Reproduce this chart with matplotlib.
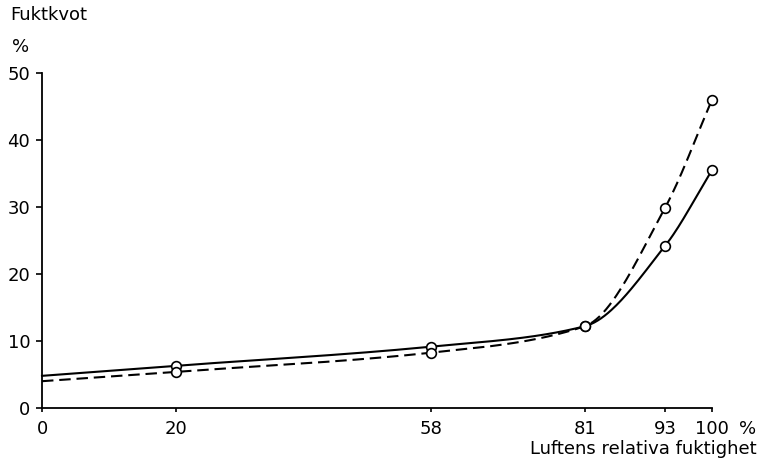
import numpy as np
import matplotlib.pyplot as plt

plt.rcParams['font.family'] = 'DejaVu Sans'
plt.rcParams['font.size'] = 13

# relative humidity (%) and moisture content (%) for the two series
rh = [0, 20, 58, 81, 93, 100]
fukt_solid = [4.8, 6.3, 9.15, 12.2, 24.2, 35.5]
fukt_dashed = [4.0, 5.4, 8.25, 12.2, 29.9, 46.0]
xticks = [0, 20, 58, 81, 93, 100]
yticks = [0, 10, 20, 30, 40, 50]


def pchip(x, y, xs):
    # monotone cubic hermite curve through the points
    x = np.asarray(x, float)
    y = np.asarray(y, float)
    h = np.diff(x)
    d = np.diff(y) / h
    m = np.zeros_like(y)
    for k in range(1, len(x) - 1):
        if d[k - 1] * d[k] > 0:
            w1 = 2 * h[k] + h[k - 1]
            w2 = h[k] + 2 * h[k - 1]
            m[k] = (w1 + w2) / (w1 / d[k - 1] + w2 / d[k])
    m[0] = d[0]
    m[-1] = d[-1]
    out = np.empty_like(xs)
    for i, xv in enumerate(xs):
        k = min(np.searchsorted(x, xv, side='right') - 1, len(x) - 2)
        t = (xv - x[k]) / h[k]
        h00 = 2 * t**3 - 3 * t**2 + 1
        h10 = t**3 - 2 * t**2 + t
        h01 = -2 * t**3 + 3 * t**2
        h11 = t**3 - t**2
        out[i] = h00 * y[k] + h10 * h[k] * m[k] + h01 * y[k + 1] + h11 * h[k] * m[k + 1]
    return out


W, H = 759, 471
fig = plt.figure(figsize=(W / 100, H / 100), dpi=100)
ax = fig.add_axes([42 / W, 1 - 408 / H, 670 / W, 335 / H])

xs = np.linspace(0, 100, 400)
ax.plot(xs, pchip(rh, fukt_solid, xs), color='black', lw=1.5, clip_on=False)
ax.plot(xs, pchip(rh, fukt_dashed, xs), color='black', lw=1.5,
        dashes=(5.5, 2.8), clip_on=False)

mk = dict(ls='none', marker='o', ms=7, mfc='white', mec='black', mew=1.2,
          clip_on=False, zorder=5)
ax.plot(rh[1:], fukt_solid[1:], **mk)
ax.plot(rh[1:], fukt_dashed[1:], **mk)

ax.set_xlim(0, 100)
ax.set_ylim(0, 50)
ax.set_xticks(xticks)
ax.set_yticks(yticks)
ax.spines['top'].set_visible(False)
ax.spines['right'].set_visible(False)
ax.spines['left'].set_linewidth(1.3)
ax.spines['bottom'].set_linewidth(1.3)
ax.tick_params(axis='x', direction='out', length=3, width=1.2, pad=5.5)
ax.tick_params(axis='y', direction='out', length=4.5, width=1.2, pad=4)

fig.text(10 / W, 1 - 20.5 / H, 'Fuktkvot', ha='left', va='baseline')
fig.text(12 / W, 1 - 52 / H, '%', ha='left', va='baseline')
fig.text(748 / W, 1 - 434 / H, '%', ha='center', va='baseline')
fig.text(757 / W, 1 - 454 / H, 'Luftens relativa fuktighet', ha='right', va='baseline')

fig.savefig('out.png', dpi=100)
